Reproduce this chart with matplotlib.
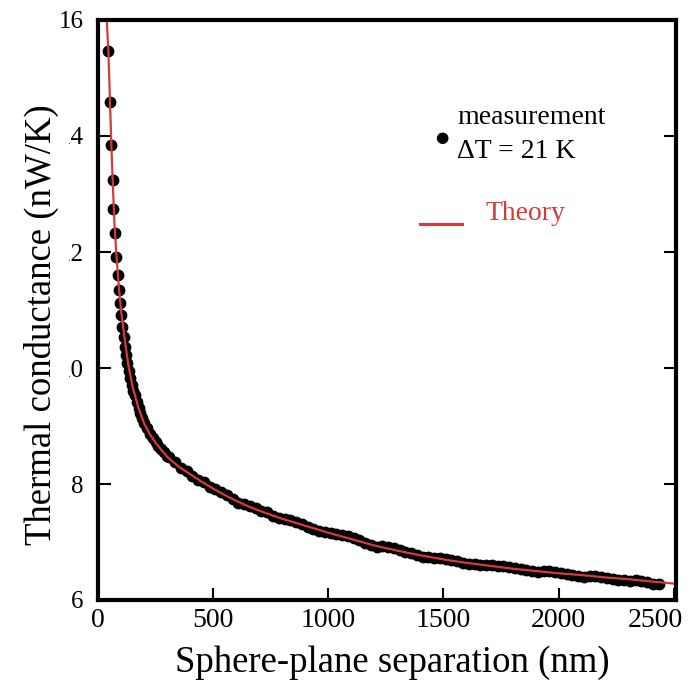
import matplotlib.pyplot as plt
from matplotlib.transforms import ScaledTranslation

# measured thermal conductance (nW/K) vs sphere-plane separation (nm)
meas_sep = [45, 52, 58, 63, 67, 72, 80, 86, 91, 97, 101, 106, 111, 116, 121, 127, 133, 139, 146, 153,
            160, 168, 176, 184, 192, 200, 212, 225, 237, 250, 262, 275, 287, 300,
            310, 335, 360, 385, 410, 435, 460, 485, 510, 535, 560, 585,
            610, 635, 660, 685, 710, 735, 760, 785, 810, 835, 860, 885, 910, 935, 960, 985, 1010, 1035,
            1060, 1085, 1110, 1135, 1160, 1185, 1210, 1235, 1260, 1285, 1310, 1335, 1360, 1385, 1410,
            1435, 1460, 1485, 1510, 1535, 1560, 1585, 1610, 1635, 1660, 1685, 1710, 1735, 1760, 1785,
            1810, 1835, 1860, 1885, 1910, 1935, 1960, 1985, 2010, 2035, 2060, 2085, 2110, 2135, 2160,
            2185, 2210, 2235, 2260, 2285, 2310, 2335, 2360, 2385, 2410, 2435]
meas_g = [15.47, 14.59, 13.84, 13.24, 12.74, 12.33, 11.91, 11.60, 11.34, 11.12, 10.91, 10.71, 10.53,
          10.37, 10.22, 10.08, 9.95, 9.83, 9.71, 9.60,
          9.54, 9.41, 9.31, 9.22, 9.14, 9.06, 8.97, 8.87, 8.80, 8.72, 8.66, 8.60, 8.55, 8.48,
          8.46, 8.38, 8.27, 8.22, 8.13, 8.07, 8.03, 7.95, 7.91,
          7.86, 7.81, 7.74, 7.68, 7.66, 7.62, 7.58, 7.54, 7.51, 7.45, 7.41, 7.40, 7.38, 7.35, 7.31,
          7.26, 7.22, 7.19, 7.18, 7.16, 7.14, 7.12, 7.10, 7.07, 7.03, 6.99, 6.95, 6.92, 6.93, 6.91,
          6.89, 6.86, 6.83, 6.81, 6.78, 6.75, 6.74, 6.72, 6.73, 6.71, 6.69, 6.67, 6.64, 6.62, 6.62,
          6.60, 6.61, 6.60, 6.59, 6.58, 6.57, 6.56, 6.54, 6.52, 6.50, 6.49, 6.50, 6.50, 6.49, 6.47,
          6.44, 6.43, 6.42, 6.40, 6.41, 6.42, 6.40, 6.38, 6.37, 6.35, 6.35, 6.33, 6.34, 6.33, 6.31,
          6.28, 6.28]

# theory curve
theory_sep = [38, 45, 52, 58, 65, 72, 80, 90, 100, 110, 120, 132, 150, 175, 200, 225, 250, 275, 300,
              350, 400, 450, 500, 550, 600, 650, 700, 750, 800, 850, 900, 950, 1000, 1100, 1200, 1300,
              1400, 1500, 1600, 1700, 1800, 1900, 2000, 2100, 2200, 2300, 2400, 2510]
theory_g = [16.0, 15.47, 14.6, 13.85, 13.1, 12.45, 11.95, 11.42, 11.0, 10.68, 10.38, 10.05, 9.68, 9.32,
            9.05, 8.86, 8.71, 8.59, 8.47, 8.30, 8.17, 8.04, 7.92, 7.81, 7.71, 7.62, 7.54, 7.47, 7.40,
            7.34, 7.28, 7.22, 7.16, 7.05, 6.94, 6.85, 6.77, 6.70, 6.64, 6.59, 6.54, 6.50, 6.46, 6.43,
            6.39, 6.36, 6.32, 6.28]

x_ticks = [0, 500, 1000, 1500, 2000, 2500]
y_ticks = [6, 8, 10, 12, 14, 16]

red = "#d63a3a"
plt.rcParams["font.family"] = ["Liberation Serif", "DejaVu Serif"]

fig = plt.figure(figsize=(6.95, 6.83), dpi=100)
ax = fig.add_axes([98 / 695, 1 - 600 / 683, 578 / 695, 580 / 683])

ax.plot(meas_sep, meas_g, color="black", marker="o", markersize=7.5, linestyle="")
ax.plot(theory_sep, theory_g, color=red, linewidth=1.6)

ax.set_xlim(0, 2510)
ax.set_ylim(6, 16)
ax.set_xticks(x_ticks)
ax.set_yticks(y_ticks)
for s in ax.spines.values():
    s.set_linewidth(3)
ax.tick_params(direction="in", length=9, width=1.5, right=True)
ax.tick_params(axis="y", pad=10.5, labelsize=18)
ax.tick_params(axis="x", pad=6, labelsize=20)

# last x label sits a little inside the frame, as in the original
last = ax.get_xticklabels()[-1]
last.set_transform(last.get_transform() + ScaledTranslation(-18 / 100, 0, fig.dpi_scale_trans))

ax.set_xlabel("Sphere-plane separation (nm)", fontsize=26.5)
# the label's white box hides the leading "1" of 14/12/10 like in the source image
ax.set_ylabel("Thermal conductance (nW/K)", fontsize=26.5,
              bbox=dict(facecolor="white", edgecolor="none", pad=7))
ax.xaxis.set_label_coords(0.509, -0.078)
ax.yaxis.set_label_coords(-0.067, 0.474)

# hand-made legend
fig.text(442 / 695, 1 - 137 / 683, "\u25cf", fontsize=11, ha="center", va="center",
         family="DejaVu Sans")
fig.text(457 / 695, 1 - 118 / 683, "measurement", fontsize=20, va="center")
fig.text(457 / 695, 1 - 152 / 683, "\u0394T = 21 K", fontsize=20, va="center")
fig.add_artist(plt.Line2D([420 / 695, 462 / 695], [1 - 224 / 683, 1 - 224 / 683],
                          color=red, linewidth=2.2))
fig.text(486 / 695, 1 - 214 / 683, "Theory", fontsize=20, color=red, va="center")

fig.savefig("out.png", dpi=100)
